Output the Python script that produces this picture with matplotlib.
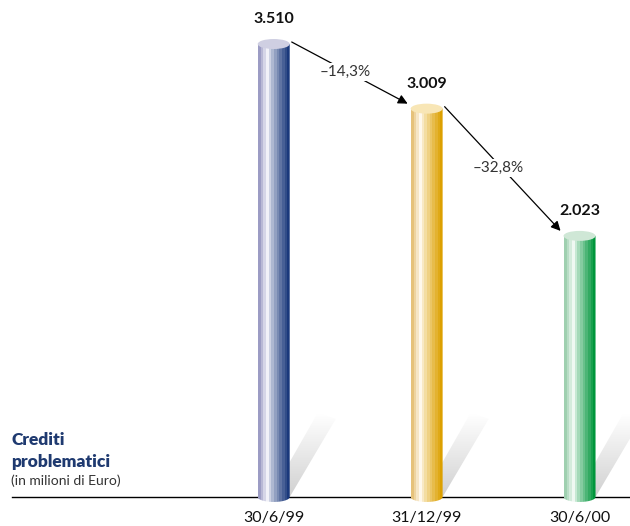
import numpy as np
import matplotlib
matplotlib.use("Agg")
import matplotlib.pyplot as plt
from matplotlib.patches import Ellipse, Polygon
from matplotlib.colors import to_rgb

plt.rcParams['font.family'] = ['Lato', 'DejaVu Sans']

# dati
dates = ["30/6/99", "31/12/99", "30/6/00"]
values = [3510, 3009, 2023]
changes = ["\u201314,3%", "\u201332,8%"]

# colori dei cilindri: bordo sinistro, riflesso, bordo destro, coperchio
left_cols = ["#9c9cc4", "#e6c27a", "#9fd0b0"]
light_cols = ["#f4f4fa", "#fffaf0", "#f2faf4"]
right_cols = ["#1c3a7c", "#dca000", "#00963c"]
top_cols = ["#cfcfe2", "#f8e6b6", "#cfe7d6"]

W, H = 630, 526
fig = plt.figure(figsize=(W / 100, H / 100), dpi=100)
ax = fig.add_axes([0, 0, 1, 1])
ax.axis('off')

xmin, xmax = -1.79, 2.33
ymin, ymax = -225, 3851
sx = (xmax - xmin) / W   # unità dati per pixel
sy = (ymax - ymin) / H

bw = 32 * sx          # larghezza cilindro
eh = 10 * sy          # altezza ellisse
xs = np.arange(len(values))


def stripes(c0, c1, c2, n=12):
    c0, c1, c2 = map(np.array, (to_rgb(c0), to_rgb(c1), to_rgb(c2)))
    t = np.linspace(0, 1, n)
    out = []
    for ti in t:
        if ti < 0.28:
            f = ti / 0.28
            out.append(c0 + (c1 - c0) * f)
        else:
            f = (ti - 0.28) / 0.72
            out.append(c1 + (c2 - c1) * f ** 0.8)
    return np.array(out)[None, :, :]


# linea di base
ax.plot([xmin + 12 * sx, xmax], [0, 0], color='black', lw=1, zorder=1)

for i, (x, v) in enumerate(zip(xs, values)):
    # ombra obliqua
    shadow = Polygon([(x - 4 * sx, 0), (x + 16 * sx, 0),
                      (x + 62 * sx, 78 * sy), (x + 44 * sx, 84 * sy)],
                     closed=True, transform=ax.transData)
    grad = np.linspace(0.80, 1.0, 50)[:, None] ** 0.9
    im = ax.imshow(np.dstack([grad, grad, grad]), origin='lower',
                   extent=[x - 4 * sx, x + 62 * sx, 0, 84 * sy],
                   aspect='auto', interpolation='bilinear', zorder=2)
    im.set_clip_path(shadow)

    # corpo del cilindro
    t = np.linspace(np.pi, 2 * np.pi, 40)
    pts = [(x - bw / 2, v)]
    pts += list(zip(x + bw / 2 * np.cos(t), eh / 2 * np.sin(t)))
    pts += [(x + bw / 2, v)]
    body = Polygon(pts, closed=True, transform=ax.transData)
    im = ax.imshow(stripes(left_cols[i], light_cols[i], right_cols[i]),
                   extent=[x - bw / 2, x + bw / 2, -eh, v],
                   aspect='auto', interpolation='nearest', zorder=3)
    im.set_clip_path(body)

    # coperchio
    ax.add_patch(Ellipse((x, v), bw, eh, facecolor=top_cols[i],
                         edgecolor='none', zorder=4))

    ax.annotate(f"{v:,}".replace(",", "."), xy=(x, v), xytext=(0, 18),
                textcoords='offset points', ha='center', va='center',
                fontsize=11.5, fontweight='bold', color='#111111')
    ax.annotate(dates[i], xy=(x, 0), xytext=(0, -15),
                textcoords='offset points', ha='center', va='center',
                fontsize=11.5, color='#111111')

# frecce di variazione
for i, lab in enumerate(changes):
    x0, y0 = xs[i] + bw / 2 + 2 * sx, values[i] + 2 * sy
    x1, y1 = xs[i + 1] - bw / 2 - 3 * sx, values[i + 1] + 5 * sy
    ax.annotate("", xy=(x1, y1), xytext=(x0, y0),
                arrowprops=dict(arrowstyle='-|>', color='black', lw=0.9,
                                mutation_scale=14, shrinkA=0, shrinkB=0),
                zorder=5)
    ax.text((x0 + x1) / 2 - 4 * sx, (y0 + y1) / 2 + 1 * sy, lab,
            ha='center', va='center', fontsize=11, color='#333333',
            bbox=dict(facecolor='white', edgecolor='none', pad=1.5),
            zorder=6)

# titolo
ax.text(xmin + 11 * sx, 57 * sy, "Crediti", fontsize=12.5, fontweight='heavy',
        color='#1f3a70', va='center', ha='left')
ax.text(xmin + 11 * sx, 35 * sy, "problematici", fontsize=12.5,
        fontweight='heavy', color='#1f3a70', va='center', ha='left')
ax.text(xmin + 11 * sx, 16 * sy, "(in milioni di Euro)", fontsize=10,
        color='#333333', va='center', ha='left')

ax.set_xlim(xmin, xmax)
ax.set_ylim(ymin, ymax)
fig.savefig("out.png", dpi=100)
